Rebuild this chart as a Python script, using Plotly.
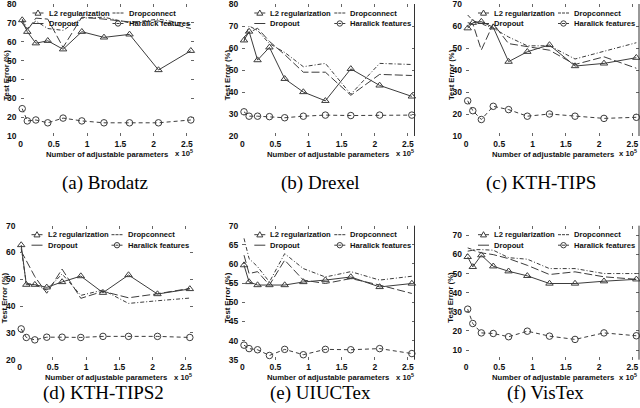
import plotly.graph_objects as go

# ---------------- data ----------------
X_PARAMS = [0.0256, 0.1024, 0.2304, 0.4096, 0.64, 0.9216, 1.2544, 1.6384, 2.0736, 2.56]  # x 10^5
X_TICKS = [0, 0.5, 1, 1.5, 2, 2.5]
X_TICK_LABELS = ["0", "0.5", "1", "1.5", "2", "2.5"]

SERIES_NAMES = ["L2 regularization", "Dropconnect", "Dropout", "Haralick features"]
CAPTIONS = ["(a) Brodatz", "(b) Drexel", "(c) KTH-TIPS", "(d) KTH-TIPS2", "(e) UIUCTex", "(f) VisTex"]

brodatz_l2 = [71.5, 65.3, 59.2, 60.5, 56, 65.3, 62.3, 63.9, 45, 55.2]
brodatz_dropconnect = [72, 67, 71, 67, 66, 72.5, 73, 70, 72, 69]
brodatz_dropout = [70, 66, 72.5, 72, 57, 73, 72, 70.5, 71, 67]
brodatz_haralick = [24.5, 18, 18.5, 17, 19.5, 18, 17, 17, 17, 18.5]

drexel_l2 = [63.5, 67.5, 54.5, 60.3, 46, 40, 36, 50.5, 43, 38]
drexel_dropconnect = [63, 70, 68, 62, 58, 51.5, 53, 39, 53, 52.5]
drexel_dropout = [65, 67, 69, 63, 57, 49, 49, 38.5, 48, 47.5]
drexel_haralick = [31, 29, 29, 28.8, 28.3, 29, 29.5, 29.3, 29.5, 29.5]

kth_l2 = [59, 61.5, 62, 59.4, 43.8, 48.3, 51.4, 41.8, 43, 45.6]
kth_dropconnect = [65, 62.5, 61, 59, 55, 51, 51, 45, 48.5, 52.4]
kth_dropout = [61.5, 61, 49.1, 61, 52, 50.5, 49, 42.5, 46, 40.8]
kth_haralick = [26, 21.5, 17.5, 23.5, 22, 19, 20, 19, 18, 18.5]

kth2_l2 = [62.8, 48, 48, 47, 49, 51.2, 45, 51.6, 44.5, 46.4]
kth2_dropconnect = [61.5, 48.5, 48, 46, 52, 44, 46, 41, 42, 43]
kth2_dropout = [60.5, 57, 51, 44.8, 53.8, 42.9, 45.5, 43.1, 44.6, 46.6]
kth2_haralick = [31.5, 28.3, 27.4, 28.4, 28.4, 28.3, 28.7, 28.7, 28.7, 28.3]

uiuc_l2 = [59.7, 55.3, 54.5, 54.5, 54.5, 55.3, 55.8, 56.6, 54, 54.9]
uiuc_dropconnect = [66.7, 61.4, 59.3, 55.3, 62.7, 58.8, 56.6, 58, 55.8, 56.8]
uiuc_dropout = [62.3, 57.5, 58, 54.5, 61, 55.8, 54.9, 56.2, 54.5, 52.3]
uiuc_haralick = [38.8, 37.9, 37.6, 36.1, 37.7, 36.3, 37.7, 37.6, 37.9, 36.6]

vistex_l2 = [58.7, 53.5, 59.6, 53.8, 51.2, 48.8, 44.8, 44.8, 46, 47]
vistex_dropconnect = [63.4, 62.5, 62.5, 62.2, 58.3, 57.5, 52.6, 52.6, 50, 50]
vistex_dropout = [61.7, 62.2, 60.8, 59.9, 57.8, 54.3, 49.5, 50.9, 48.3, 47]
vistex_haralick = [31.4, 23.9, 19, 18.7, 17, 19.9, 17.3, 15.6, 19, 17.5]

Y_RANGES = [[10, 80], [20, 80], [10, 70], [20, 70], [35, 70], [5, 75]]
Y_DTICKS = [10, 10, 10, 10, 5, 10]

DATASETS = [
    (brodatz_l2, brodatz_dropconnect, brodatz_dropout, brodatz_haralick),
    (drexel_l2, drexel_dropconnect, drexel_dropout, drexel_haralick),
    (kth_l2, kth_dropconnect, kth_dropout, kth_haralick),
    (kth2_l2, kth2_dropconnect, kth2_dropout, kth2_haralick),
    (uiuc_l2, uiuc_dropconnect, uiuc_dropout, uiuc_haralick),
    (vistex_l2, vistex_dropconnect, vistex_dropout, vistex_haralick),
]

# ---------------- layout geometry (pixels) ----------------
W, H = 640, 408
X_RANGE = [0, 2.6]
PX_X = [(20.5, 193.5), (242.3, 414.5), (466, 639), (19.5, 192.5), (242.3, 414.5), (466, 639)]
PX_Y = [(4, 136), (4, 136), (4, 136), (225.7, 359.7), (225.7, 359.7), (225.7, 359.7)]
CAPTION_POS = [(105, 183), (320, 183), (541, 183), (103, 393), (320, 393), (545, 393)]
RIGHT_LINE = [False, True, True, False, True, True]


def fx(px):
    return px / W


def fy(py):
    return 1 - py / H


LINE_COLOR = "#3c3c3c"
SANS = "Liberation Sans, Arial, sans-serif"
STYLES = {
    "L2 regularization": dict(dash="solid", marker="triangle-up-open"),
    "Dropconnect": dict(dash="4px,2px,1px,2px", marker=None),
    "Dropout": dict(dash="8px,3px", marker=None),
    "Haralick features": dict(dash="4px,3px", marker="circle-open"),
}

fig = go.Figure()
annotations = []
shapes = []

for i, series in enumerate(DATASETS):
    k = "" if i == 0 else str(i + 1)
    xa, ya = "x" + k, "y" + k
    for name, vals in zip(SERIES_NAMES, series):
        st = STYLES[name]
        mode = "lines+markers" if st["marker"] else "lines"
        tr = dict(
            x=X_PARAMS, y=vals, mode=mode, name=name, showlegend=False,
            line=dict(color=LINE_COLOR, width=1, dash=st["dash"]),
            xaxis=xa, yaxis=ya, cliponaxis=False,
        )
        if st["marker"]:
            tr["marker"] = dict(symbol=st["marker"], size=6.5, color=LINE_COLOR,
                                line=dict(width=1, color=LINE_COLOR))
        fig.add_trace(go.Scatter(**tr))

    x0, x1 = PX_X[i]
    t, b = PX_Y[i]
    axis_common = dict(showgrid=False, zeroline=False, showline=False, automargin=False,
                       ticks="inside", ticklen=3, tickwidth=1, tickcolor="#666",
                       mirror="ticks", ticklabeloverflow="allow",
                       tickfont=dict(family=SANS, size=8.5, color="#111", weight="bold"))
    fig.layout["xaxis" + k] = dict(
        domain=[fx(x0), fx(x1)], range=X_RANGE, anchor=ya,
        tickvals=X_TICKS, ticktext=X_TICK_LABELS, ticklabelstandoff=1, **axis_common)
    lo, hi = Y_RANGES[i]
    d = Y_DTICKS[i]
    first = lo if lo % d == 0 else lo + (d - lo % d)
    yt = list(range(int(first), int(hi) + 1, d))
    fig.layout["yaxis" + k] = dict(
        domain=[fy(b), fy(t)], range=[lo, hi], anchor=xa,
        tickvals=yt, ticklabelstandoff=3, **axis_common)

    if RIGHT_LINE[i]:
        shapes.append(dict(type="line", xref=xa + " domain", yref=ya + " domain",
                           x0=1, x1=1, y0=0, y1=1, line=dict(color="#333", width=1)))

    # axis titles
    lab_font = dict(family=SANS, size=7.7, color="#111", weight="bold")
    xt_y = b + 18
    annotations.append(dict(text="Number of adjustable parameters", x=fx((x0 + x1) / 2), y=fy(xt_y),
                            xref="paper", yref="paper", showarrow=False, font=lab_font,
                            xanchor="center", yanchor="middle"))
    annotations.append(dict(text="x 10<sup>5</sup>", x=fx(min(x1 + 1, 639)), y=fy(xt_y - 1),
                            xref="paper", yref="paper", showarrow=False, font=lab_font,
                            xanchor="right", yanchor="middle"))
    annotations.append(dict(text="Test Error (%)", x=fx(x0 - 15), y=fy((t + b) / 2 + 5),
                            xref="paper", yref="paper", showarrow=False, font=lab_font,
                            textangle=-90, xanchor="center", yanchor="middle"))

    # caption
    cx, cy = CAPTION_POS[i]
    annotations.append(dict(text=CAPTIONS[i], x=fx(cx), y=fy(cy), xref="paper", yref="paper",
                            showarrow=False, xanchor="center", yanchor="middle",
                            font=dict(family="Liberation Serif, Times New Roman, serif", size=19,
                                      color="#000")))

    # legend (two columns)
    leg_font = dict(family=SANS, size=7.6, color="#111", weight="bold")
    rows = [t + 9, t + 19.5]
    cols = [x0 + 12, x0 + 92]
    order = [("L2 regularization", 0, 0), ("Dropconnect", 0, 1),
             ("Dropout", 1, 0), ("Haralick features", 1, 1)]
    for name, r, c in order:
        st = STYLES[name]
        sx0, sx1 = cols[c], cols[c] + 11
        sy = rows[r]
        shapes.append(dict(type="line", xref="paper", yref="paper",
                           x0=fx(sx0), x1=fx(sx1), y0=fy(sy), y1=fy(sy),
                           line=dict(color=LINE_COLOR, width=1,
                                     dash="solid" if name in ("L2 regularization", "Dropout") else "3px,1px")))
        mx = (sx0 + sx1) / 2
        if st["marker"] == "triangle-up-open":
            path = "M {:.5f},{:.5f} L {:.5f},{:.5f} L {:.5f},{:.5f} Z".format(
                fx(mx), fy(sy - 3), fx(mx + 3), fy(sy + 2.2), fx(mx - 3), fy(sy + 2.2))
            shapes.append(dict(type="path", xref="paper", yref="paper", path=path,
                               line=dict(color=LINE_COLOR, width=1), fillcolor="white"))
        elif st["marker"] == "circle-open":
            shapes.append(dict(type="circle", xref="paper", yref="paper",
                               x0=fx(mx - 2.7), x1=fx(mx + 2.7), y0=fy(sy + 2.7), y1=fy(sy - 2.7),
                               line=dict(color=LINE_COLOR, width=1), fillcolor="rgba(0,0,0,0)"))
        annotations.append(dict(text=name, x=fx(cols[c] + 14), y=fy(sy), xref="paper", yref="paper",
                                showarrow=False, xanchor="left", yanchor="middle", font=leg_font))

fig.update_layout(
    width=W, height=H, margin=dict(l=0, r=0, t=0, b=0),
    paper_bgcolor="white", plot_bgcolor="white",
    showlegend=False, annotations=annotations, shapes=shapes,
)

fig.write_html("out.html", config={"displayModeBar": False},
               post_script="document.body.style.margin='0';document.body.style.padding='0';")
